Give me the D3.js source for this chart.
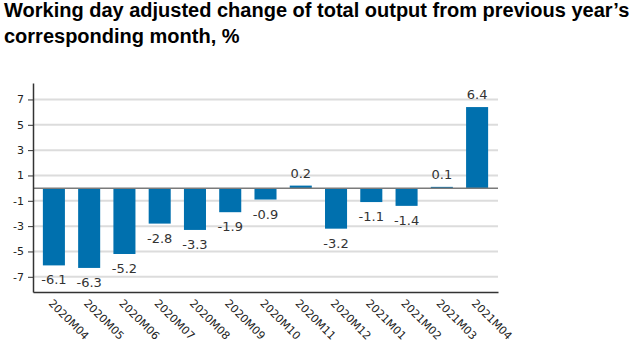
<!DOCTYPE html>
<html>
<head>
<meta charset="utf-8">
<script src="https://cdn.jsdelivr.net/npm/d3@7"></script>
<style>
  body { margin: 0; background: #fff; }
  svg { display: block; }
</style>
</head>
<body>
<svg id="chart" width="633" height="351"></svg>
<script>
var months = ["2020M04", "2020M05", "2020M06", "2020M07", "2020M08", "2020M09", "2020M10",
              "2020M11", "2020M12", "2021M01", "2021M02", "2021M03", "2021M04"];
var change = [-6.1, -6.3, -5.2, -2.8, -3.3, -1.9, -0.9, 0.2, -3.2, -1.1, -1.4, 0.1, 6.4];
var yTicks = [-7, -5, -3, -1, 1, 3, 5, 7];
var titleLines = ["Working day adjusted change of total output from previous year\u2019s",
                  "corresponding month, %"];

var data = months.map((m, i) => ({ month: m, value: change[i] }));

var margin = { top: 83, right: 135, bottom: 59, left: 33 };
var width = 633, height = 351;

var svg = d3.select("#chart");

// title
svg.append("g")
    .attr("font-family", "'Liberation Sans', Arial, sans-serif")
    .attr("font-weight", "bold")
    .attr("font-size", 20)
    .attr("fill", "#000")
    .selectAll("text")
    .data(titleLines)
    .join("text")
    .attr("x", 4)
    .attr("y", (d, i) => 17 + i * 26)
    .text(d => d);

var x = d3.scaleBand()
    .domain(months)
    .range([margin.left, width - margin.right])
    .paddingInner(0.375)
    .paddingOuter(0.28);

var y = d3.scaleLinear()
    .domain([-8.2, 8.3])
    .range([height - margin.bottom, margin.top]);

// gridlines
svg.append("g")
    .attr("stroke", "#dcdcdc")
    .attr("stroke-width", 2)
    .selectAll("line")
    .data(yTicks)
    .join("line")
    .attr("x1", margin.left)
    .attr("x2", width - margin.right)
    .attr("y1", d => y(d))
    .attr("y2", d => y(d));

// bars
svg.append("g")
    .attr("fill", "#0070ae")
    .selectAll("rect")
    .data(data)
    .join("rect")
    .attr("x", d => x(d.month))
    .attr("width", x.bandwidth())
    .attr("y", d => y(Math.max(0, d.value)))
    .attr("height", d => Math.abs(y(d.value) - y(0)));

// zero line
svg.append("line")
    .attr("x1", margin.left)
    .attr("x2", width - margin.right)
    .attr("y1", y(0))
    .attr("y2", y(0))
    .attr("stroke", "#7a7a7a")
    .attr("stroke-width", 1.5);

// value labels
svg.append("g")
    .attr("font-family", "'DejaVu Sans', Verdana, sans-serif")
    .attr("font-size", 13)
    .attr("fill", "#333")
    .attr("text-anchor", "middle")
    .selectAll("text")
    .data(data)
    .join("text")
    .attr("x", d => x(d.month) + x.bandwidth() / 2)
    .attr("y", d => d.value >= 0 ? y(d.value) - 8 : y(d.value) + 19)
    .text(d => d.value.toFixed(1));

// y axis
var yAxis = svg.append("g")
    .attr("transform", `translate(${margin.left},0)`)
    .call(d3.axisLeft(y).tickValues(yTicks).tickSize(5).tickSizeOuter(0).tickFormat(d => String(d)));
yAxis.select(".domain").attr("stroke", "#333").attr("stroke-width", 1.5);
yAxis.selectAll(".tick line").attr("stroke", "#333");
yAxis.selectAll(".tick text")
    .attr("font-family", "'DejaVu Sans', Verdana, sans-serif")
    .attr("font-size", 11)
    .attr("fill", "#222")
    .attr("x", -9);

// x axis
var xAxis = svg.append("g")
    .attr("transform", `translate(0,${height - margin.bottom})`)
    .call(d3.axisBottom(x).tickSize(0).tickSizeOuter(0));
xAxis.select(".domain").attr("stroke", "#333").attr("stroke-width", 1.5);
xAxis.selectAll(".tick text")
    .attr("font-family", "'DejaVu Sans', Verdana, sans-serif")
    .attr("font-size", 11)
    .attr("fill", "#222")
    .attr("text-anchor", "start")
    .attr("dy", null)
    .attr("x", -6)
    .attr("y", 12)
    .attr("transform", "rotate(45 -6 12)");
</script>
</body>
</html>
